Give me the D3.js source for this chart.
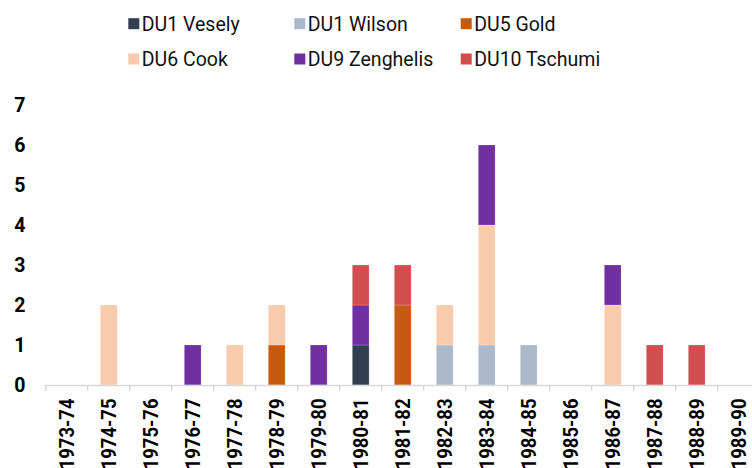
<!DOCTYPE html>
<html>
<head>
<meta charset="utf-8">
<script src="https://cdn.jsdelivr.net/npm/d3@7/dist/d3.min.js"></script>
<style>
  html, body { margin: 0; padding: 0; background: #fff; }
  svg { display: block; font-family: Roboto, "Noto Sans", sans-serif; }
</style>
</head>
<body>
<svg id="chart" width="752" height="468"></svg>
<script>
// Academic years
const years = ["1973-74","1974-75","1975-76","1976-77","1977-78","1978-79","1979-80",
  "1980-81","1981-82","1982-83","1983-84","1984-85","1985-86","1986-87","1987-88",
  "1988-89","1989-90"];

// Unit tutors, stacked bottom to top
const seriesNames = ["DU1 Vesely","DU1 Wilson","DU5 Gold","DU6 Cook","DU9 Zenghelis","DU10 Tschumi"];
const seriesColors = ["#333f50","#adb9ca","#c55a11","#f8cbad","#7030a0","#d04e4f"];

// Counts per year for each tutor
const vesely    = [0,0,0,0,0,0,0,1,0,0,0,0,0,0,0,0,0];
const wilson    = [0,0,0,0,0,0,0,0,0,1,1,1,0,0,0,0,0];
const gold      = [0,0,0,0,0,1,0,0,2,0,0,0,0,0,0,0,0];
const cook      = [0,2,0,0,1,1,0,0,0,1,3,0,0,2,0,0,0];
const zenghelis = [0,0,0,1,0,0,1,1,0,0,2,0,0,1,0,0,0];
const tschumi   = [0,0,0,0,0,0,0,1,1,0,0,0,0,0,1,1,0];

const yTicks = [0,1,2,3,4,5,6,7];

const seriesValues = [vesely, wilson, gold, cook, zenghelis, tschumi];
const rows = years.map((y, i) => {
  const r = { year: y };
  seriesNames.forEach((n, k) => { r[n] = seriesValues[k][i]; });
  return r;
});

const svg = d3.select("#chart");

const x = d3.scaleBand().domain(years).range([45.7, 759.7]).paddingInner(0.6).paddingOuter(0.3);
const y = d3.scaleLinear().domain([0, 7]).range([385, 105]);

const stacked = d3.stack().keys(seriesNames)(rows);
const color = d3.scaleOrdinal().domain(seriesNames).range(seriesColors);

// Bars
svg.append("g").selectAll("g")
  .data(stacked)
  .join("g")
  .attr("fill", d => color(d.key))
  .selectAll("rect")
  .data(d => d.filter(s => s[1] - s[0] > 0))
  .join("rect")
  .attr("x", d => x(d.data.year))
  .attr("width", x.bandwidth())
  .attr("y", d => y(d[1]))
  .attr("height", d => y(d[0]) - y(d[1]))
  .attr("stroke", "#fff")
  .attr("stroke-width", 0.6)
  .attr("stroke-opacity", 0.35);

// X axis: baseline with ticks on band boundaries
const xAxisG = svg.append("g");
xAxisG.append("line")
  .attr("x1", x.range()[0]).attr("x2", x.range()[1])
  .attr("y1", y(0) + 0.5).attr("y2", y(0) + 0.5)
  .attr("stroke", "#d9d9d9").attr("stroke-width", 1.5);
const step = x.step();
xAxisG.selectAll("line.tick")
  .data(d3.range(years.length + 1))
  .join("line")
  .attr("class", "tick")
  .attr("x1", i => x.range()[0] + i * step)
  .attr("x2", i => x.range()[0] + i * step)
  .attr("y1", y(0)).attr("y2", y(0) + 6)
  .attr("stroke", "#d9d9d9").attr("stroke-width", 1.5);

xAxisG.selectAll("text")
  .data(years)
  .join("text")
  .attr("transform", d => `translate(${x(d) + x.bandwidth() / 2 - 0.5},398.5) rotate(-90) scale(1,1.1)`)
  .attr("text-anchor", "end")
  .attr("dy", "0.36em")
  .attr("font-size", 18.5)
  .attr("font-weight", 700)
  .attr("fill", "#000")
  .text(d => d);

// Y axis labels
const yAxis = d3.axisLeft(y).tickValues(yTicks).tickSize(0).tickFormat(d3.format("d"));
const yAxisG = svg.append("g").attr("transform", "translate(25.5,0)").call(yAxis);
yAxisG.select(".domain").remove();
yAxisG.selectAll("text")
  .attr("x", 0)
  .attr("font-size", 19.5)
  .attr("font-weight", 700)
  .attr("font-family", "Roboto, 'Noto Sans', sans-serif")
  .attr("fill", "#000");

// Legend, three columns by two rows
const legendX = [128.3, 294.3, 460.7];
const legendBase = [30.5, 65.8];
const legend = svg.append("g").selectAll("g")
  .data(seriesNames)
  .join("g")
  .attr("transform", (d, i) => `translate(${legendX[i % 3]},${legendBase[Math.floor(i / 3)]})`);
legend.append("rect")
  .attr("x", 0).attr("y", -12.3)
  .attr("width", 11).attr("height", 11)
  .attr("fill", d => color(d));
legend.append("text")
  .attr("x", 13.5)
  .attr("font-size", 19.5)
  .attr("fill", "#111")
  .text(d => d);
</script>
</body>
</html>
